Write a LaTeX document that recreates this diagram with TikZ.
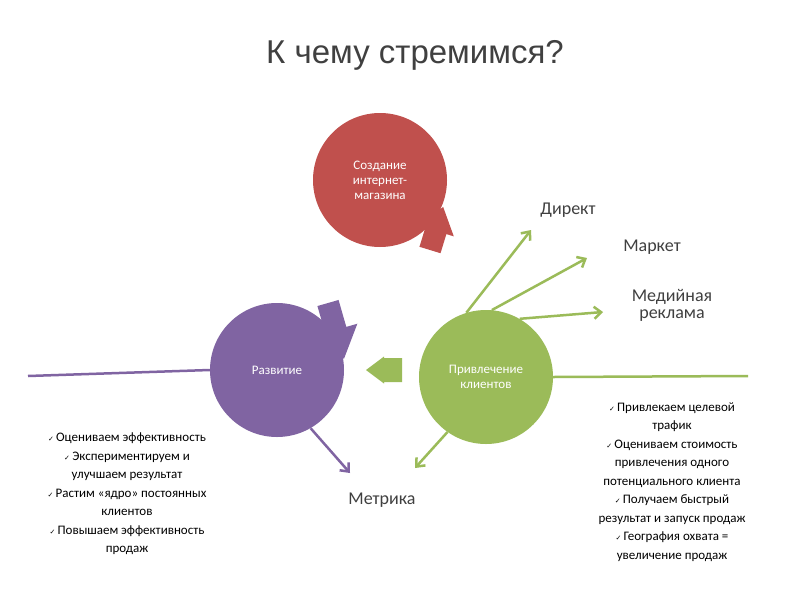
\documentclass[tikz,border=0pt]{standalone}
\usepackage{fontspec}
\setmainfont{Carlito}
\newfontfamily\titlefont{Liberation Sans}
\newfontfamily\chk{DejaVu Sans}
\usetikzlibrary{arrows.meta}
\definecolor{cred}{HTML}{C0504D}
\definecolor{cgreen}{HTML}{9BBB59}
\definecolor{cpurple}{HTML}{8064A2}
\definecolor{ctext}{HTML}{404040}
\newcommand{\ck}{{\chk\scriptsize ✓}\,}
\newcommand{\blockarr}[7]{% color, x, y, rot, L, hl/h/s
  \begin{scope}[shift={(#2,#3)},rotate=#4]
  \fill[#1] (0,-#7)--(#5-#6,-#7)--(#5-#6,-#6*0.75)--(#5,0)--(#5-#6,#6*0.75)--(#5-#6,#7)--(0,#7)--cycle;
  \end{scope}}
\tikzset{circ/.style={circle,minimum size=134pt,inner sep=0pt,text=white,align=center,font=\fontsize{13}{15}\selectfont},
 lab/.style={text=ctext,font=\fontsize{18}{18}\selectfont,align=center},
 ga/.style={draw=cgreen,line width=2.5pt,-{Straight Barb[length=7pt,width=12pt]}},
 pa/.style={draw=cpurple,line width=2.5pt,-{Straight Barb[length=7pt,width=12pt]}},
 lst/.style={align=center,font=\fontsize{13}{18.5}\selectfont,text=black}}
\begin{document}
\begin{tikzpicture}[x=1pt,y=-1pt]
\useasboundingbox (0,0) rectangle (800,600);
\fill[white] (0,0) rectangle (800,600);
\node[text=ctext,font=\titlefont\fontsize{33}{33}\selectfont] (title) at (415,55) {К чему стремимся?};
\node[circ,fill=cred] (sozd) at (380,180) {Создание\\интернет-\\магазина};
\node[circ,fill=cgreen] (priv) at (486,377) {Привлечение\\клиентов};
\node[circ,fill=cpurple] (razv) at (277,370) {Развитие};
\blockarr{cpurple}{328}{303}{-74}{58}{30}{11}
\blockarr{cred}{430}{250}{73}{45}{25}{11}
\blockarr{cgreen}{402}{370}{180}{36}{18}{12}
\coordinate (lend) at (28,376);
\coordinate (rend) at (748,376);
\draw[cpurple,line width=2.5pt] (razv.west) -- (lend);
\draw[cgreen,line width=2.5pt] (priv.east) -- (rend);
\node[lab] (direkt) at (568,210) {Директ};
\node[lab] (market) at (652,247) {Маркет};
\node[lab,font=\fontsize{18}{17}\selectfont] (media) at (672,305) {Медийная\\реклама};
\node[lab] (metr) at (382,500) {Метрика};
\coordinate (d1) at (531,230);
\coordinate (m1) at (587,258);
\coordinate (r1) at (603,312);
\coordinate (pm) at (350,473);
\coordinate (gm) at (415,468);
\draw[ga] (priv.107) -- (d1);
\draw[ga] (priv.85) -- (m1);
\draw[ga] (priv.60) -- (r1);
\draw[ga] (priv.-125) -- (gm);
\draw[pa] (razv.-60) -- (pm);
\node[lst] (left) at (127,494) {\ck Оцениваем эффективность\\\ck Экспериментируем и\\улучшаем результат\\\ck Растим «ядро» постоянных\\клиентов\\\ck Повышаем эффективность\\продаж};
\node[lst] (right) at (672,482) {\ck Привлекаем целевой\\трафик\\\ck Оцениваем стоимость\\привлечения одного\\потенциального клиента\\\ck Получаем быстрый\\результат и запуск продаж\\\ck География охвата =\\увеличение продаж};
\end{tikzpicture}
\end{document}
